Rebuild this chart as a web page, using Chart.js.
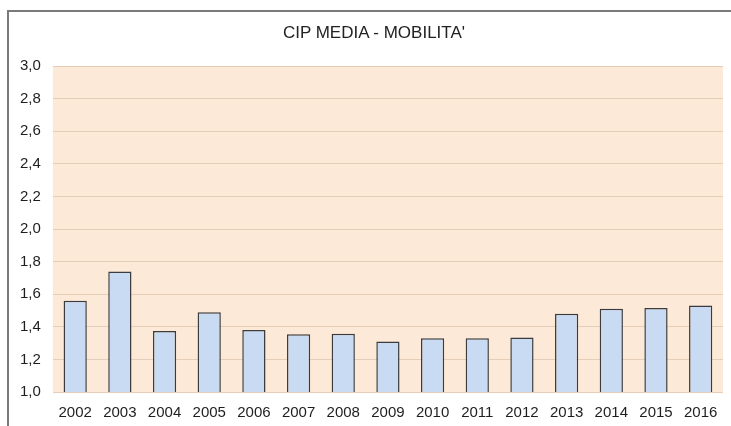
<!DOCTYPE html>
<html>
<head>
<meta charset="utf-8">
<script src="https://cdn.jsdelivr.net/npm/chart.js@4/dist/chart.umd.min.js"></script>
<style>
  html, body { margin: 0; padding: 0; background: #ffffff; }
  #wrap { position: relative; width: 731px; height: 426px; overflow: hidden; }
  #frame { position: absolute; left: 7px; top: 10px; width: 740px; height: 440px;
           border-top: 2px solid #7a7a7a; border-left: 2px solid #7a7a7a; box-sizing: border-box; }
  #title { position: absolute; left: 274px; width: 200px; top: 23px; text-align: center;
           font: 17px 'Liberation Sans', Arial, sans-serif; color: #222222; white-space: nowrap; }
  canvas { position: absolute; left: 0; top: 0; }
</style>
</head>
<body>
<div id="wrap">
  <div id="frame"></div>
  <canvas id="c" width="731" height="426"></canvas>
  <div id="title"></div>
</div>
<script>
const categories = ['2002','2003','2004','2005','2006','2007','2008','2009','2010','2011','2012','2013','2014','2015','2016'];
const cipValues = [1.56, 1.74, 1.375, 1.49, 1.38, 1.355, 1.357, 1.31, 1.33, 1.33, 1.335, 1.48, 1.51, 1.515, 1.53];
const chartTitle = "CIP MEDIA - MOBILITA'";
const yMin = 1.0, yMax = 3.0, yStep = 0.2;

document.getElementById('title').textContent = chartTitle;

const bgPlugin = {
  id: 'plotBg',
  beforeDraw(chart) {
    const { ctx, chartArea: a } = chart;
    ctx.save();
    ctx.fillStyle = '#fde9d8';
    ctx.fillRect(a.left, a.top, a.right - a.left, a.bottom - a.top);
    ctx.restore();
  }
};

const FONT = 'Liberation Sans, Arial, sans-serif';

new Chart(document.getElementById('c'), {
  type: 'bar',
  data: {
    labels: categories,
    datasets: [{
      data: cipValues,
      backgroundColor: '#c8dbf3',
      borderColor: '#3c3c3c',
      borderWidth: 1.5,
      borderSkipped: 'bottom',
      categoryPercentage: 1.0,
      barPercentage: 0.52
    }]
  },
  options: {
    responsive: false,
    animation: false,
    devicePixelRatio: 1,
    layout: { padding: { left: 8, right: 8, top: 66, bottom: 0 } },
    plugins: {
      legend: { display: false },
      tooltip: { enabled: false },
      title: { display: false }
    },
    scales: {
      x: {
        grid: { display: false },
        border: { display: false },
        ticks: {
          color: '#1e1e1e',
          font: { family: FONT, size: 15 },
          padding: 4,
          maxRotation: 0, autoSkip: false
        }
      },
      y: {
        min: yMin, max: yMax,
        grid: { color: '#e6cdb8', lineWidth: 1, drawTicks: false },
        border: { display: false },
        ticks: {
          stepSize: yStep,
          color: '#1e1e1e',
          padding: 12,
          font: { family: FONT, size: 15 },
          callback: v => v.toFixed(1).replace('.', ',')
        }
      }
    }
  },
  plugins: [bgPlugin]
});
</script>
</body>
</html>
